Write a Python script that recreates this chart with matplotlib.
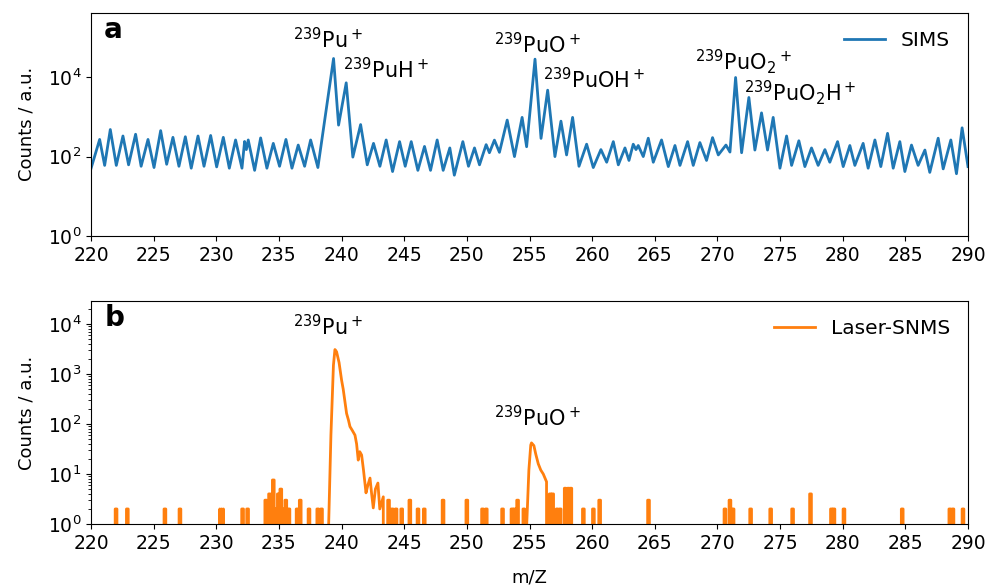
import matplotlib
matplotlib.use("Agg")
import matplotlib.pyplot as plt
from matplotlib.ticker import NullLocator, FixedLocator
import numpy as np

# ---------------- SIMS spectrum (panel a): points -------------
sims_mz = [220.0, 220.69, 221.09, 221.54, 222.02, 222.55, 223.0, 223.56, 224.0, 224.55,
           225.03, 225.56, 226.04, 226.54, 227.02, 227.53, 228.0, 228.54, 229.02, 229.55,
           230.03, 230.56, 231.04, 231.54, 232.05, 232.26, 232.4, 232.55, 233.06, 233.54,
           234.04, 234.55, 235.05, 235.56, 236.04, 236.54, 237.05, 237.53, 238.11, 239.36,
           239.76, 240.37, 240.9, 241.52, 242.05, 242.55, 243.06, 243.56, 244.07, 244.63,
           245.08, 245.56, 246.09, 246.62, 247.1, 247.63, 248.11, 248.64, 249.0, 249.68,
           250.13, 250.61, 251.01, 251.54, 251.8, 252.2, 252.6, 253.22, 253.8, 254.41,
           254.77, 255.44, 255.92, 256.45, 257.03, 257.51, 257.96, 258.44, 258.95, 259.56,
           260.09, 260.7, 261.16, 261.69, 262.09, 262.62, 262.94, 263.28, 263.5, 263.68,
           264.08, 264.48, 264.88, 265.54, 266.08, 266.61, 267.01, 267.62, 268.07, 268.6,
           269.13, 269.61, 270.07, 270.68, 271.0, 271.45, 271.93, 272.51, 272.99, 273.52,
           274.0, 274.45, 274.99, 275.52, 275.92, 276.5, 276.98, 277.51, 278.04, 278.58,
           278.97, 279.59, 280.04, 280.57, 280.97, 281.63, 282.03, 282.57, 283.04, 283.58,
           284.03, 284.56, 284.96, 285.49, 286.02, 286.56, 286.95, 287.62, 288.02, 288.63,
           289.08, 289.53, 290.0]
sims_counts = [50, 270, 60, 480, 60, 330, 62, 365, 57, 270,
               53, 450, 64, 305, 57, 316, 51, 330, 57, 340,
               55, 305, 51, 262, 51, 240, 150, 262, 45, 295,
               51, 215, 57, 270, 51, 195, 57, 262, 53, 29500,
               620, 7200, 97, 640, 62, 215, 57, 262, 42, 238,
               57, 238, 45, 180, 45, 262, 45, 165, 34, 238,
               57, 165, 62, 200, 125, 260, 128, 830, 100, 970,
               177, 28400, 287, 4700, 100, 780, 110, 970, 57, 205,
               53, 150, 72, 238, 62, 165, 80, 205, 150, 190,
               100, 290, 72, 262, 56, 190, 60, 238, 60, 225,
               80, 300, 110, 195, 130, 9800, 125, 3080, 146, 1260,
               146, 970, 51, 330, 60, 250, 56, 165, 60, 150,
               72, 238, 56, 190, 60, 215, 51, 262, 56, 385,
               51, 238, 42, 195, 60, 146, 40, 290, 49, 262,
               37, 530, 56]

# ---------------- Laser-SNMS spectrum (panel b) -------------------------------------
# continuous peak profiles (Pu+ and PuO+)
snms_peak_mz = [238.9, 238.97, 239.15, 239.35, 239.47, 239.6, 239.8, 240.0, 240.13, 240.4,
                240.55, 240.67, 240.85, 241.07, 241.2, 241.33, 241.45, 241.6, 241.75,
                241.95, 242.1, 242.27, 242.4, 242.53, 242.7, 242.9, 243.05, 243.33,
                243.5,
                254.72, 254.78, 254.95, 255.1, 255.16, 255.35, 255.5, 255.7, 255.9, 256.1,
                256.36, 256.45]
snms_peak_counts = [0, 1, 60, 1500, 3100, 2800, 1700, 760, 500, 163,
                    120, 89, 75, 60, 40, 19, 28, 24, 12,
                    4.2, 6, 8.3, 4, 2.1, 5, 6.6, 2, 3.5,
                    0,
                    0, 1, 12, 38, 42, 37, 25, 16, 12, 10,
                    7, 0]
# isolated spikes (centre m/z, counts)
snms_spike_mz = [222.0, 222.9, 225.9, 227.1, 230.35, 230.5, 232.1, 232.5,
                 233.95, 234.25, 234.55, 234.75, 234.95, 235.15, 235.35, 235.55, 235.8,
                 236.45, 236.7, 237.4, 238.1, 238.4,
                 243.75, 244.05, 244.35, 244.8, 245.45, 246.1, 246.6, 248.1, 250.0,
                 251.25, 251.55, 252.85, 253.6, 253.8, 254.05, 254.55,
                 256.65, 256.85, 257.2, 257.45, 257.85, 258.1, 258.3, 259.3, 260.1, 260.6,
                 264.5, 270.6, 271.0, 271.25, 272.65, 274.25, 276.0, 277.43, 279.1, 279.3,
                 280.1, 284.75, 288.55, 288.8, 289.6]
snms_spike_counts = [2, 2, 2, 2, 2, 2, 2, 2,
                     3, 4, 7.6, 2, 4, 5, 2, 3, 2,
                     2, 3, 2, 2, 2,
                     3, 2, 2, 2, 3, 2, 2, 3, 3,
                     2, 2, 2, 2, 2, 3, 2,
                     4, 4, 2, 2, 5.2, 5.2, 5.2, 2, 2, 3,
                     3, 2, 3, 2, 2, 2, 2, 4, 2, 2,
                     2, 2, 2, 2, 2]
snms_baseline = 0.0   # zero counts (fall below the log axis)

labels_a = [r"$^{239}$Pu$^+$", r"$^{239}$PuH$^+$", r"$^{239}$PuO$^+$",
            r"$^{239}$PuOH$^+$", r"$^{239}$PuO$_2$$^+$", r"$^{239}$PuO$_2$H$^+$"]
labels_a_mz = [236.12, 240.11, 252.16, 256.07, 268.2, 272.1]
labels_a_y = [10**4.73, 10**3.97, 10**4.61, 10**3.72, 10**4.18, 10**3.42]
labels_b = [r"$^{239}$Pu$^+$", r"$^{239}$PuO$^+$"]
labels_b_mz = [236.12, 252.16]
labels_b_y = [10**3.78, 10**1.95]

xticks = list(range(220, 291, 5))
yticks_a = [1, 1e2, 1e4]

# build laser trace from profile + spikes
half_top = 0.07
half_base = 0.13
pts = [(220.0, snms_baseline), (290.0, snms_baseline)]
pts += list(zip(snms_peak_mz, snms_peak_counts))
for c, h in zip(snms_spike_mz, snms_spike_counts):
    pts += [(c - half_base, snms_baseline), (c - half_top, h),
            (c + half_top, h), (c + half_base, snms_baseline)]
pts.sort(key=lambda p: p[0])
laser_x = np.array([p[0] for p in pts])
laser_y = np.array([p[1] for p in pts])

plt.rcParams['font.size'] = 13
fig = plt.figure(figsize=(9.9, 5.86), dpi=100)
ax1 = fig.add_axes([91/990, 1-236/586, (968-91)/990, (236-12.7)/586])
ax2 = fig.add_axes([91/990, 1-524/586, (968-91)/990, (524-301)/586])

ax1.plot(sims_mz, sims_counts, color='#1f77b4', lw=2, label='SIMS')
ax1.set_yscale('log')
ax1.set_ylim(1, 4.2e5)
ax1.set_xlim(220, 290)
ax1.set_xticks(xticks)
ax1.yaxis.set_major_locator(FixedLocator(yticks_a))
ax1.yaxis.set_minor_locator(NullLocator())
ax1.set_ylabel('Counts / a.u.', labelpad=9)
ax1.legend(loc='upper right', frameon=False, fontsize=14.5)
ax1.text(0.015, 0.985, 'a', transform=ax1.transAxes, fontsize=20, fontweight='bold',
         va='top', ha='left')
for t, x, y in zip(labels_a, labels_a_mz, labels_a_y):
    ax1.text(x, y, t, fontsize=15, ha='left', va='baseline')

ax2.plot(laser_x, laser_y, color='#ff7f0e', lw=2, label='Laser-SNMS')
ax2.set_yscale('log', nonpositive='clip')
ax2.set_ylim(1, 2.9e4)
ax2.set_xlim(220, 290)
ax2.set_xticks(xticks)
ax2.set_ylabel('Counts / a.u.', labelpad=9)
ax2.set_xlabel('m/Z', labelpad=11)
ax2.legend(loc='upper right', frameon=False, fontsize=14.5)
ax2.text(0.015, 0.985, 'b', transform=ax2.transAxes, fontsize=20, fontweight='bold',
         va='top', ha='left')
for t, x, y in zip(labels_b, labels_b_mz, labels_b_y):
    ax2.text(x, y, t, fontsize=15, ha='left', va='baseline')

for ax in (ax1, ax2):
    ax.tick_params(labelsize=13.5)

fig.savefig('out.png', dpi=100)
